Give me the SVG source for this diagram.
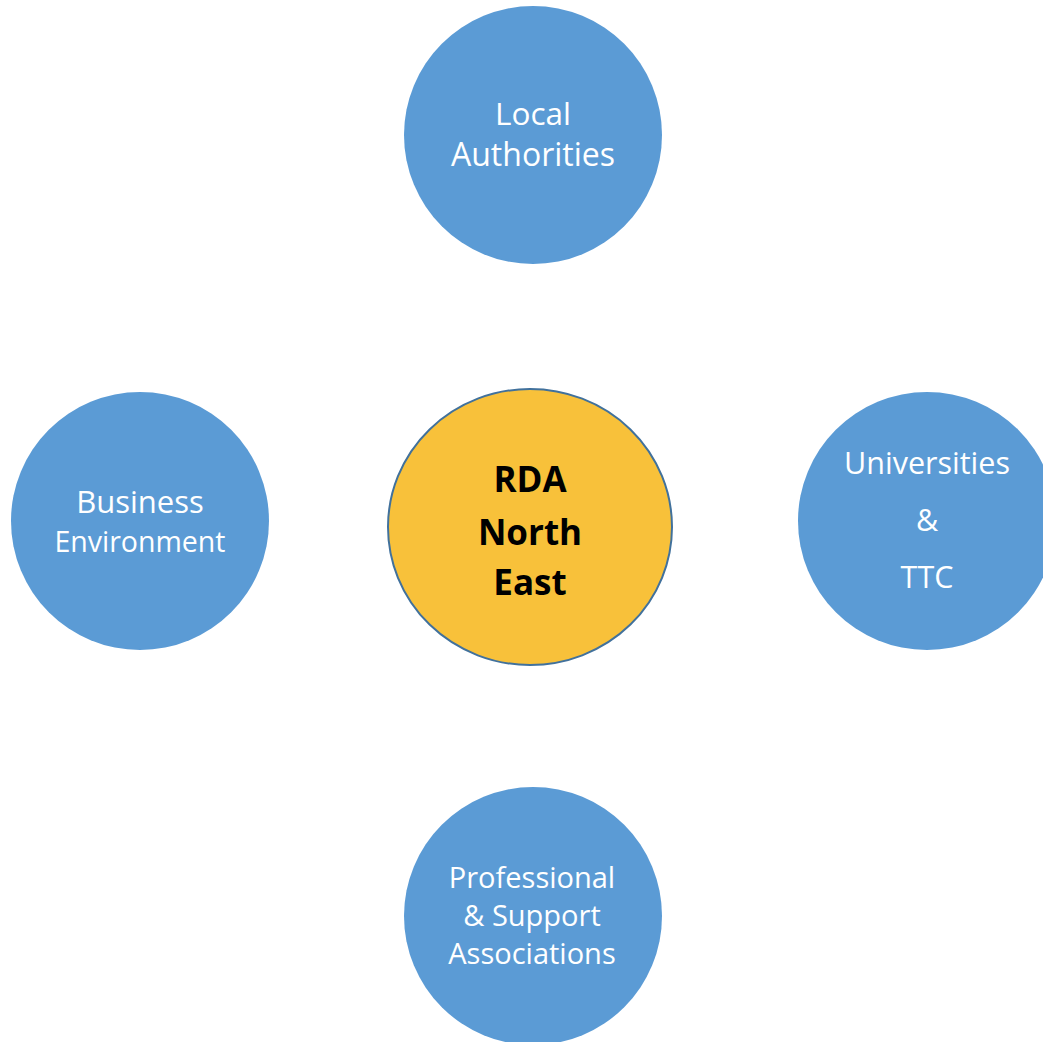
<svg xmlns="http://www.w3.org/2000/svg" width="1043" height="1042" viewBox="0 0 1043 1042">
<style>
.sat{fill:#5B9BD5;}
.hub{fill:#F8C13A;stroke:#41719C;stroke-width:2;}
.lt{font-family:"Open Sans","Noto Sans",sans-serif;fill:#FFFFFF;text-anchor:middle;}
.ht{font-family:"Open Sans","Noto Sans",sans-serif;font-weight:bold;fill:#000000;text-anchor:middle;font-size:35px;}
</style>
<rect width="1043" height="1042" fill="#FFFFFF"/>
<g id="connectors"></g>
<g id="local-authorities">
<circle class="sat" cx="533" cy="135" r="129"/>
<text class="lt" font-size="31.5" x="533" y="125">Local</text>
<text class="lt" font-size="32" x="533" y="166">Authorities</text>
</g>
<g id="business-environment">
<circle class="sat" cx="140" cy="521" r="129"/>
<text class="lt" font-size="31" x="140" y="513">Business</text>
<text class="lt" font-size="28.5" x="140" y="552">Environment</text>
</g>
<g id="universities-ttc">
<circle class="sat" cx="927" cy="521" r="129"/>
<text class="lt" font-size="30.5" x="927" y="474">Universities</text>
<text class="lt" font-size="30.5" x="927" y="531">&amp;</text>
<text class="lt" font-size="30.5" x="927" y="588">TTC</text>
</g>
<g id="professional-support">
<circle class="sat" cx="533" cy="916" r="129"/>
<text class="lt" font-size="29" x="532" y="888">Professional</text>
<text class="lt" font-size="29" x="532" y="926">&amp; Support</text>
<text class="lt" font-size="29" x="532" y="964">Associations</text>
</g>
<g id="rda-north-east">
<ellipse class="hub" cx="530" cy="527" rx="142" ry="138"/>
<text class="ht" x="530" y="492">RDA</text>
<text class="ht" x="530" y="545">North</text>
<text class="ht" x="530" y="595">East</text>
</g>
</svg>
